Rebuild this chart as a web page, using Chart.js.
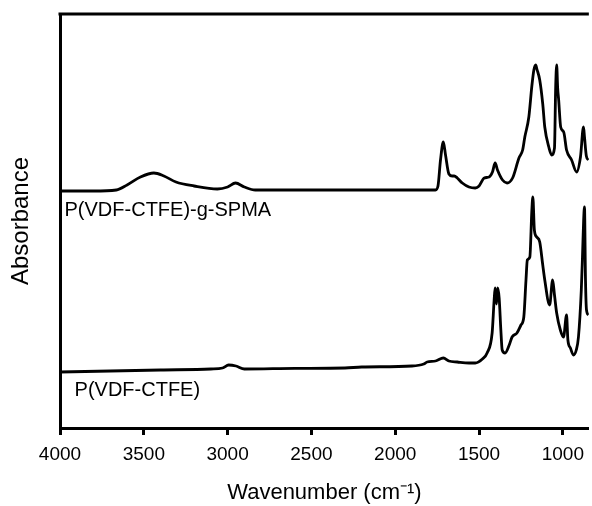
<!DOCTYPE html>
<html>
<head>
<meta charset="utf-8">
<script src="https://cdn.jsdelivr.net/npm/chart.js@4"></script>
<style>
body { margin: 0; background: #fff; }
#box { width: 592px; height: 506px; }
</style>
</head>
<body>
<div id="box"><canvas id="ftir"></canvas></div>
<script>
/* FTIR spectra: wavenumber (cm-1) and absorbance (arb. units) */

const xTicks = [4000, 3500, 3000, 2500, 2000, 1500, 1000];

// P(VDF-CTFE)-g-SPMA
const wnTop = [4000,3800,3664,3600,3520,3440,3380,3308,3200,3061,3000,2953,2900,2835,2500,2000,1760,1745,1730,1713,1700,1680,1660,1648,1630,1600,1560,1523,1500,1469,1440,1420,1404,1390,1360,1333,1300,1262,1240,1227,1203,1185,1173,1162,1155,1138,1120,1108,1084,1067,1050,1043,1037,1031,1025,1013,995,978,948,918,895,877,871,860,847];
const absTop = [1.185,1.185,1.19,1.215,1.255,1.275,1.26,1.23,1.21,1.195,1.205,1.225,1.205,1.19,1.19,1.19,1.19,1.21,1.34,1.43,1.365,1.27,1.26,1.26,1.25,1.225,1.205,1.2,1.21,1.25,1.255,1.28,1.325,1.29,1.24,1.225,1.25,1.35,1.39,1.455,1.555,1.71,1.79,1.815,1.795,1.74,1.62,1.505,1.405,1.365,1.40,1.70,1.815,1.70,1.64,1.505,1.48,1.39,1.34,1.28,1.355,1.505,1.455,1.36,1.34];

// P(VDF-CTFE)
const wnBottom = [4000,3700,3400,3100,3030,2994,2950,2900,2600,2300,2200,1900,1830,1810,1760,1713,1680,1630,1560,1523,1480,1452,1422,1410,1404,1396,1389,1380,1370,1362,1345,1320,1303,1274,1250,1233,1220,1212,1197,1185,1179,1170,1156,1138,1120,1108,1079,1061,1050,1037,1015,996,978,970,955,937,920,907,890,883,876,871,865,859,847];
const absBottom = [0.28,0.285,0.29,0.295,0.3,0.315,0.31,0.295,0.298,0.3,0.305,0.31,0.32,0.33,0.335,0.35,0.335,0.33,0.325,0.325,0.345,0.375,0.475,0.64,0.70,0.62,0.70,0.65,0.49,0.39,0.375,0.415,0.455,0.475,0.515,0.555,0.74,0.84,0.855,1.09,1.155,0.99,0.955,0.93,0.815,0.74,0.615,0.74,0.665,0.575,0.49,0.455,0.565,0.44,0.40,0.365,0.39,0.455,0.69,0.855,1.04,1.105,0.74,0.59,0.565];

const seriesNames = ['P(VDF-CTFE)-g-SPMA', 'P(VDF-CTFE)'];
// where the names are written, in data units
const labelWn = [3973, 3913];
const labelAbs = [1.09, 0.19];

function toPoints(xs, ys) {
  return xs.map((x, i) => ({ x: x, y: ys[i] }));
}

const FONT = '"Liberation Sans", Arial, sans-serif';

const frameTop = {
  id: 'frameTop',
  afterDraw(chart) {
    const a = chart.chartArea;
    const c = chart.ctx;
    c.save();
    c.strokeStyle = '#000';
    c.lineWidth = 3;
    c.beginPath();
    c.moveTo(a.left - 1.5, a.top);
    c.lineTo(a.right, a.top);
    c.stroke();
    c.restore();
  }
};

const curveNames = {
  id: 'curveNames',
  afterDatasetsDraw(chart) {
    const c = chart.ctx;
    const sx = chart.scales.x, sy = chart.scales.y;
    c.save();
    c.fillStyle = '#000';
    c.font = '20px ' + FONT;
    c.textBaseline = 'middle';
    c.textAlign = 'left';
    seriesNames.forEach((name, i) => {
      c.fillText(name, sx.getPixelForValue(labelWn[i]), sy.getPixelForValue(labelAbs[i]));
    });
    c.restore();
  }
};

const ctx = document.getElementById('ftir');

new Chart(ctx, {
  type: 'line',
  data: {
    datasets: [{
      label: seriesNames[0],
      data: toPoints(wnTop, absTop),
      borderColor: '#000',
      borderWidth: 2.8,
      pointRadius: 0,
      cubicInterpolationMode: 'monotone'
    }, {
      label: seriesNames[1],
      data: toPoints(wnBottom, absBottom),
      borderColor: '#000',
      borderWidth: 2.8,
      pointRadius: 0,
      cubicInterpolationMode: 'monotone'
    }]
  },
  options: {
    responsive: true,
    maintainAspectRatio: false,
    animation: false,
    layout: { padding: { top: 14, right: 0, bottom: 0, left: 0 } },
    plugins: {
      legend: { display: false },
      tooltip: { enabled: false }
    },
    scales: {
      x: {
        type: 'linear',
        reverse: true,
        min: 845,
        max: 4000,
        afterBuildTicks: (s) => { s.ticks = xTicks.map(v => ({ value: v })); },
        afterFit: (s) => { s.height = 78; },
        ticks: {
          color: '#000',
          font: { family: FONT, size: 19 },
          padding: 8,
          maxRotation: 0,
          autoSkip: false,
          callback: (v) => String(v)
        },
        grid: {
          drawOnChartArea: false,
          color: '#000',
          tickLength: 7,
          tickWidth: 3
        },
        border: { color: '#000', width: 3 },
        title: {
          display: true,
          text: 'Wavenumber (cm⁻¹)',
          color: '#000',
          font: { family: FONT, size: 22 },
          padding: 0
        }
      },
      y: {
        min: 0,
        max: 2.07,
        afterFit: (s) => { s.width = 60; },
        ticks: { display: false },
        grid: { display: false, drawTicks: false },
        border: { color: '#000', width: 3 },
        title: {
          display: true,
          text: 'Absorbance',
          color: '#000',
          font: { family: FONT, size: 24 },
          padding: { top: 7, bottom: 0 }
        }
      }
    }
  },
  plugins: [frameTop, curveNames]
});
</script>
</body>
</html>
